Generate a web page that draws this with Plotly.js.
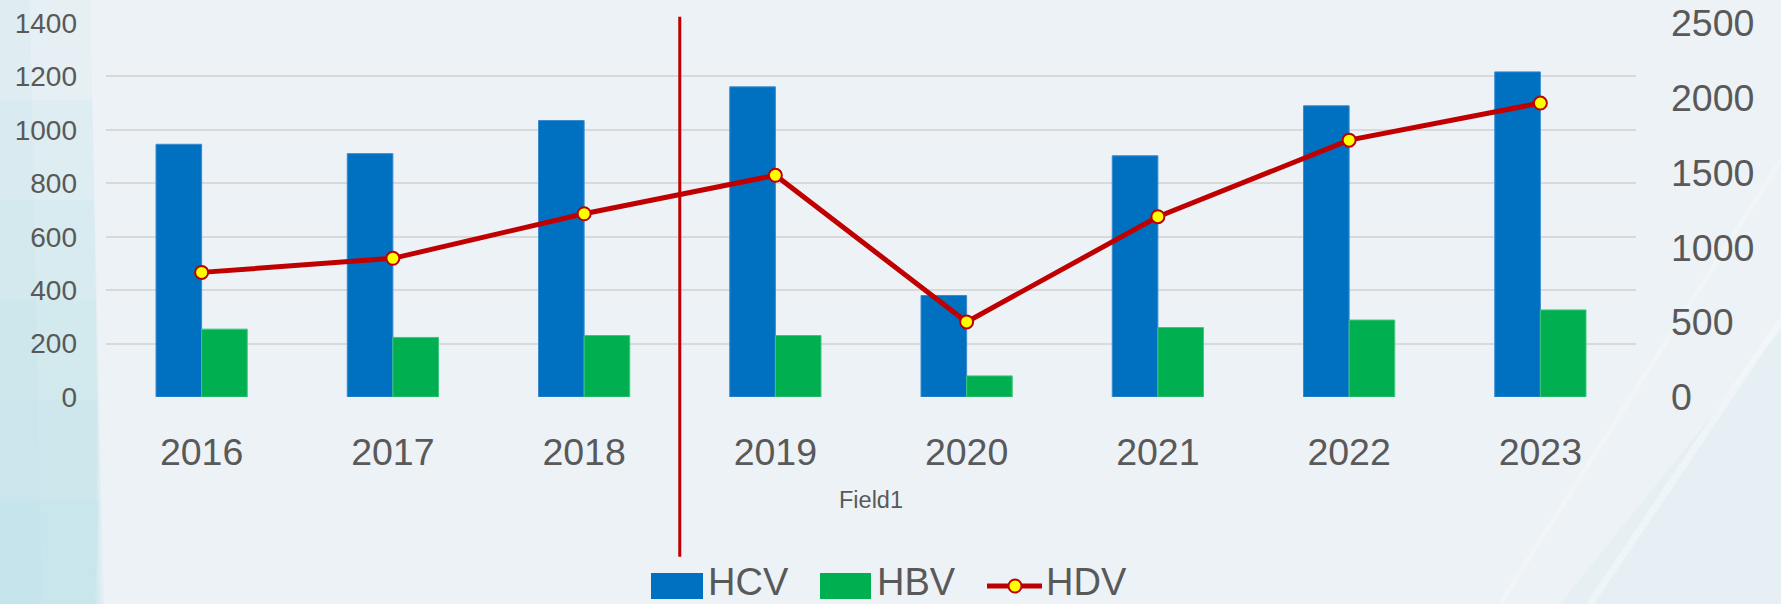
<!DOCTYPE html>
<html>
<head>
<meta charset="utf-8">
<script src="https://cdn.plot.ly/plotly-3.0.1.min.js"></script>
<style>html,body{margin:0;padding:0;background:#EDF2F6;}#chart{width:1781px;height:604px;}</style>
</head>
<body>
<div id="chart"></div>
<script>
// ---- data ----
const categories = ['2016','2017','2018','2019','2020','2021','2022','2023'];
const hcv = [946, 911, 1035, 1161, 380, 903, 1090, 1217];
const hbv = [254, 223, 230, 230, 79, 260, 288, 326];
const hdv = [833, 927, 1225, 1482, 502, 1205, 1717, 1965];
const seriesNames = ['HCV', 'HBV', 'HDV'];
const leftTicks = [0, 200, 400, 600, 800, 1000, 1200, 1400];
const rightTicks = [0, 500, 1000, 1500, 2000, 2500];
const xTitle = 'Field1';
const dividerAfter = '2018';

// ---- layout helpers ----
const W = 1781, H = 604;
const M = {l: 106, r: 145, t: 23, b: 207};
const pw = W - M.l - M.r, ph = H - M.t - M.b;
const px = x => (x - M.l) / pw;
const py = y => (H - M.b - y) / ph;

const BLUE = '#0070C0', GREEN = '#00B050', RED = '#C00000', YEL = '#FFFF00';
const TXT = '#595959';
const FONT = 'Liberation Sans, Arial, sans-serif';

const traces = [
  {type: 'bar', name: seriesNames[0], x: categories, y: hcv,
   marker: {color: BLUE, line: {color: '#3B8BD0', width: 1}}, showlegend: false, hoverinfo: 'skip'},
  {type: 'bar', name: seriesNames[1], x: categories, y: hbv,
   marker: {color: GREEN, line: {color: '#40C47E', width: 1}}, showlegend: false, hoverinfo: 'skip'},
  {type: 'scatter', mode: 'lines+markers', name: seriesNames[2], x: categories, y: hdv, yaxis: 'y2',
   line: {color: RED, width: 5},
   marker: {color: YEL, size: 13, line: {color: RED, width: 2}}, showlegend: false, hoverinfo: 'skip', cliponaxis: false}
];

const divIdx = categories.indexOf(dividerAfter) + 1; // boundary index
const divPaper = divIdx / categories.length;

const shapes = [];
// soft left gradient band (stacked translucent layers)
const bandTops = [0, 100, 200, 300, 400, 500];
bandTops.forEach((t, i) => {
  const xt = 90 + t * 0.02, xb = 104 - i * 2;
  shapes.push({type: 'path', xref: 'paper', yref: 'paper', layer: 'below',
    path: `M ${px(0)} ${py(t)} L ${px(xt)} ${py(t)} L ${px(xb)} ${py(604)} L ${px(0)} ${py(604)} Z`,
    fillcolor: 'rgba(175,218,230,0.12)', line: {width: 0}});
});
shapes.push({type: 'path', xref: 'paper', yref: 'paper', layer: 'below',
  path: `M ${px(0)} ${py(0)} L ${px(30)} ${py(0)} L ${px(42)} ${py(604)} L ${px(0)} ${py(604)} Z`,
  fillcolor: 'rgba(175,218,230,0.10)', line: {width: 0}});
// subtle bottom-right decoration
shapes.push({type: 'path', xref: 'paper', yref: 'paper', layer: 'below',
  path: `M ${px(1560)} ${py(604)} L ${px(1781)} ${py(330)} L ${px(1781)} ${py(604)} Z`,
  fillcolor: 'rgba(210,232,238,0.25)', line: {width: 0}});
shapes.push({type: 'line', xref: 'paper', yref: 'paper', layer: 'below',
  x0: px(1590), y0: py(604), x1: px(1781), y1: py(320),
  line: {color: 'rgba(255,255,255,0.35)', width: 7}});
shapes.push({type: 'line', xref: 'paper', yref: 'paper', layer: 'below',
  x0: px(1500), y0: py(604), x1: px(1781), y1: py(160),
  line: {color: 'rgba(255,255,255,0.25)', width: 5}});
// divider line
shapes.push({type: 'line', xref: 'paper', yref: 'paper', layer: 'above',
  x0: divPaper, x1: divPaper, y0: py(16.7), y1: py(556.7),
  line: {color: RED, width: 3}});
// custom legend symbols
shapes.push({type: 'rect', xref: 'paper', yref: 'paper', x0: px(651), x1: px(703), y0: py(573), y1: py(599),
  fillcolor: BLUE, line: {width: 0}});
shapes.push({type: 'rect', xref: 'paper', yref: 'paper', x0: px(820), x1: px(871), y0: py(573), y1: py(599),
  fillcolor: GREEN, line: {width: 0}});
shapes.push({type: 'line', xref: 'paper', yref: 'paper', x0: px(987), x1: px(1042), y0: py(586), y1: py(586),
  line: {color: RED, width: 5}});
shapes.push({type: 'circle', xref: 'paper', yref: 'paper', xsizemode: 'pixel', ysizemode: 'pixel',
  xanchor: px(1015), yanchor: py(586), x0: -6.5, x1: 6.5, y0: -6.5, y1: 6.5,
  fillcolor: YEL, line: {color: RED, width: 2}});

const legFont = {family: FONT, size: 38, color: TXT};
const legY = py(582);
const annotations = [
  {xref: 'paper', yref: 'paper', x: px(706), y: legY, xanchor: 'left', yanchor: 'middle',
   text: seriesNames[0], showarrow: false, font: legFont},
  {xref: 'paper', yref: 'paper', x: px(875), y: legY, xanchor: 'left', yanchor: 'middle',
   text: seriesNames[1], showarrow: false, font: legFont},
  {xref: 'paper', yref: 'paper', x: px(1044), y: legY, xanchor: 'left', yanchor: 'middle',
   text: seriesNames[2], showarrow: false, font: legFont}
];

const layout = {
  width: W, height: H,
  margin: M,
  paper_bgcolor: '#EDF2F6', plot_bgcolor: 'rgba(0,0,0,0)',
  barmode: 'group', bargap: 0.523, bargroupgap: 0,
  showlegend: false,
  font: {family: FONT, color: TXT},
  xaxis: {type: 'category', categoryorder: 'array', categoryarray: categories,
    range: [-0.5, categories.length - 0.5],
    showgrid: false, zeroline: false, showline: false, ticks: '',
    tickfont: {family: FONT, size: 37.5, color: TXT}, ticklabelstandoff: 29,
    title: {text: xTitle, font: {family: FONT, size: 23.5, color: TXT}, standoff: 20}},
  yaxis: {range: [0, 1400], tickmode: 'array', tickvals: leftTicks, ticktext: leftTicks.map(String),
    showgrid: true, gridcolor: '#D9D9D9', gridwidth: 2, zeroline: false, showline: false, ticks: '',
    tickfont: {family: FONT, size: 28, color: TXT}, ticklabelstandoff: 28, ticklabeloverflow: 'allow'},
  yaxis2: {range: [0, 2500], overlaying: 'y', side: 'right', tickmode: 'array', tickvals: rightTicks,
    ticktext: rightTicks.map(String), showgrid: false, zeroline: false, showline: false, ticks: '',
    tickfont: {family: FONT, size: 37.5, color: TXT}, ticklabelstandoff: 34, ticklabeloverflow: 'allow'},
  shapes: shapes,
  annotations: annotations
};

Plotly.newPlot('chart', traces, layout, {staticPlot: true, displayModeBar: false});
</script>
</body>
</html>
